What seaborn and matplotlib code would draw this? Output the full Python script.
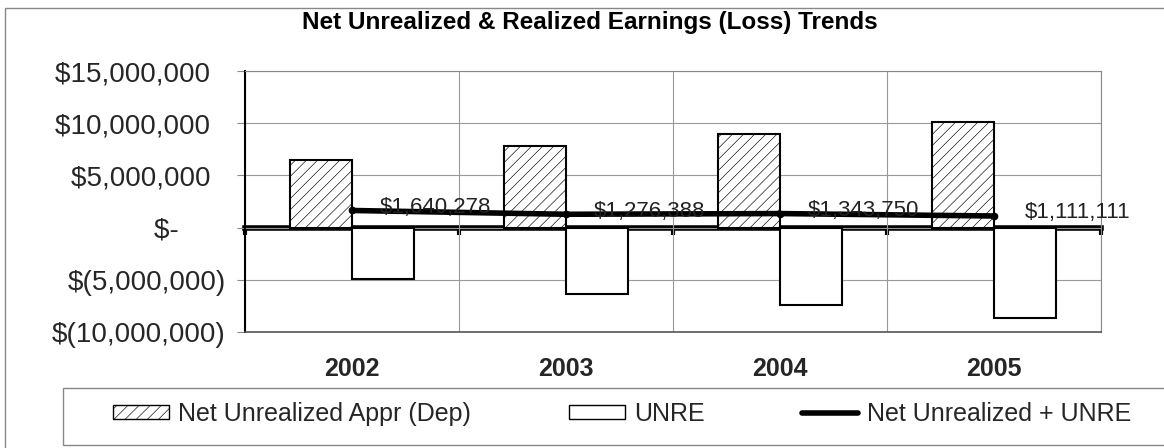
import numpy as np
import pandas as pd
import matplotlib
matplotlib.use('Agg')
import matplotlib.pyplot as plt
import seaborn as sns
from matplotlib.patches import Patch, Rectangle
from matplotlib.lines import Line2D

# chart values
years = ['2002', '2003', '2004', '2005']
net_unrealized = [6_500_000, 7_800_000, 9_000_000, 10_100_000]
unre = [-4_900_000, -6_400_000, -7_400_000, -8_700_000]
combined = [1_640_278, 1_276_388, 1_343_750, 1_111_111]
series_names = ['Net Unrealized Appr (Dep)', 'UNRE', 'Net Unrealized + UNRE']
ytick_values = [-10_000_000, -5_000_000, 0, 5_000_000, 10_000_000, 15_000_000]
ytick_labels = ['$(10,000,000)', '$(5,000,000)', '$-      ',
                '$5,000,000  ', '$10,000,000  ', '$15,000,000  ']
title = 'Net Unrealized & Realized Earnings (Loss) Trends'

sns.set_theme(style='white')
plt.rcParams['font.family'] = ['Liberation Sans', 'DejaVu Sans']
plt.rcParams['hatch.linewidth'] = 0.45

bars = pd.DataFrame({
    'Year': years * 2,
    'Value': net_unrealized + unre,
    'Series': [series_names[0]] * len(years) + [series_names[1]] * len(years),
})

W, H = 1164, 448
fig = plt.figure(figsize=(W / 100, H / 100), dpi=100)
ax = fig.add_axes([245 / W, 1 - 332 / H, 856 / W, 261 / H])

sns.barplot(data=bars, x='Year', y='Value', hue='Series', hue_order=series_names[:2],
            palette=['white', 'white'], edgecolor='black', linewidth=1.5,
            width=0.58, errorbar=None, legend=False, saturation=1, ax=ax)
for p in ax.containers[0]:
    p.set_hatch('///')

# combined line
sns.pointplot(x=years, y=combined, color='black', markers='o', markersize=2.5,
              linewidth=4, errorbar=None, ax=ax)

for i, v in enumerate(combined):
    ax.text(i + 0.39, v + 0.3e6, f'${v:,.0f}', ha='center', va='center',
            fontsize=16, color='#222222')

ylim = (ytick_values[0], ytick_values[-1])
ax.set_ylim(*ylim)
ax.set_xlim(-0.5, len(years) - 0.5)
ax.set_yticks(ytick_values, labels=ytick_labels)
ax.tick_params(axis='y', direction='out', length=6, width=0.8, color='#888888',
               pad=8, labelsize=20, left=True)
boundaries = np.arange(len(years) + 1) - 0.5
ax.set_xticks(boundaries, minor=True)
ax.tick_params(axis='x', which='both', length=0, pad=18)
for lab in ax.get_xticklabels():
    lab.set_fontsize(18)
    lab.set_fontweight('bold')
ax.set_xlabel('')
ax.set_ylabel('')
ax.set_axisbelow(True)
ax.grid(axis='y', which='major', color='#999999', linewidth=0.8)
ax.grid(axis='x', which='minor', color='#999999', linewidth=0.8)

for side in ['top', 'right']:
    ax.spines[side].set_color('#888888')
    ax.spines[side].set_linewidth(0.8)
ax.spines['left'].set_color('black')
ax.spines['left'].set_linewidth(1.5)
ax.spines['bottom'].set_color('#555555')
ax.spines['bottom'].set_linewidth(1.2)

# category axis crossing at zero
zero_pos = (0 - ylim[0]) / (ylim[1] - ylim[0])
sec = ax.secondary_xaxis(zero_pos)
sec.set_xticks(boundaries, labels=[])
sec.tick_params(axis='x', direction='out', length=5, width=3, color='black')
sec.spines['bottom'].set_color('black')
sec.spines['bottom'].set_linewidth(4)

fig.text(590 / W, 1 - 23 / H, title, ha='center', va='center',
         fontsize=17.5, fontweight='bold', color='black')

handles = [
    Patch(facecolor='white', edgecolor='black', hatch='///', linewidth=1),
    Patch(facecolor='white', edgecolor='black', linewidth=1),
    Line2D([0], [0], color='black', linewidth=4),
]
fig.legend(handles, series_names, loc='center left', bbox_to_anchor=(113 / W, 1 - 414 / H),
           ncol=3, frameon=False, fontsize=18, handlelength=2.25, handleheight=0.45,
           handletextpad=0.36, columnspacing=3.9, borderpad=0, borderaxespad=0)

# chart and legend frames
fig.patches.append(Rectangle((63 / W, 3 / H), 1.2, (445 - 388) / H, transform=fig.transFigure,
                             fill=False, edgecolor='#888888', linewidth=1))
fig.patches.append(Rectangle((5 / W, -0.1), 1.2, 1.1 - 8 / H, transform=fig.transFigure,
                             fill=False, edgecolor='#888888', linewidth=1))

fig.savefig('out.png', dpi=100)
